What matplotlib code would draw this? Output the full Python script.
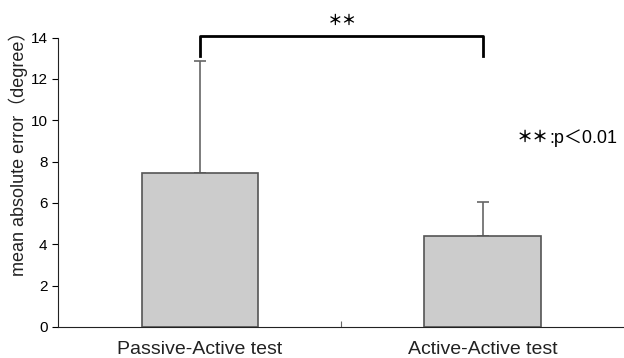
import numpy as np
import matplotlib
matplotlib.use('Agg')
import matplotlib.pyplot as plt

plt.rcParams['font.family'] = ['Liberation Sans', 'Noto Sans CJK JP']

categories = ['Passive-Active test', 'Active-Active test']
means      = [7.45, 4.39]
errors     = [5.43, 1.67]
y_ticks    = [0, 2, 4, 6, 8, 10, 12, 14]

fig = plt.figure(figsize=(6.24, 3.58), dpi=100)
ax  = fig.add_axes([0.093, 0.0866, 0.907, 0.8086])

x = np.array([0.5, 1.5])
ax.bar(x, means, width=0.41, color='#cccccc', edgecolor='#555555', linewidth=1.2, zorder=2)
ax.errorbar(x, means, yerr=[np.zeros(2), errors], fmt='none', ecolor='#666666',
            elinewidth=1.2, capsize=4, capthick=1.2, zorder=1)

ax.set_xlim(0, 2)
ax.set_ylim(0, 14)
ax.set_yticks(y_ticks)
ax.tick_params(axis='y', direction='out', length=4, labelsize=11)
ax.set_xticks([1])
ax.set_xticklabels([''])
ax.tick_params(axis='x', direction='in', length=4, color='#666666')
for xi, c in zip(x, categories):
    ax.text(xi, -1.1, c, ha='center', va='center', fontsize=14, color='#222222')

for s in ['top', 'right']:
    ax.spines[s].set_visible(False)
ax.spines['left'].set_color('#222222')
ax.spines['bottom'].set_color('#222222')

fig.text(0.029, 0.582, 'mean absolute error（degree）', rotation=90, ha='center',
         va='center', fontsize=13, color='#222222')

# significance bracket
ax.plot([x[0], x[0], x[1], x[1]], [13.1, 14.05, 14.05, 13.1], color='black',
        linewidth=2, clip_on=False)
ax.text(x.mean() + 0.005, 14.8, '＊＊', ha='center', va='center', fontsize=10.5,
        fontweight='bold', clip_on=False)
ax.text(1.735, 9.15, '＊＊', ha='right', va='center', fontsize=11.5, fontweight='bold')
ax.text(1.735, 9.15, ':p＜0.01', ha='left', va='center', fontsize=13)

fig.savefig('out.png', dpi=100)
